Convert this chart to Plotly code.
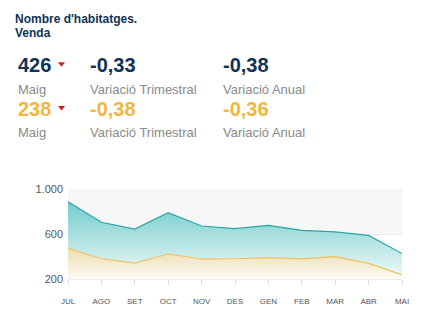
import plotly.graph_objects as go

# Monthly figures (Jul .. Maig)
months = ["JUL", "AGO", "SET", "OCT", "NOV", "DES", "GEN", "FEB", "MAR", "ABR", "MAI"]
series_a = [887, 704, 644, 789, 671, 647, 677, 633, 618, 588, 426]
series_b = [473, 380, 342, 422, 378, 380, 390, 378, 398, 339, 238]

# Summary indicators
last_a, last_b = 426, 238
period_label = "Maig"
var_trim = ["-0,33", "-0,38"]
var_anual = ["-0,38", "-0,36"]

W, H = 437, 323
L, R, T, B = 68, 402, 188.5, 279  # plot area in pixels

NAVY = "#0f3354"
GOLD = "#f2b63f"
GREY = "#8a8a8a"
RED = "#cc2027"
FONT = "Liberation Sans, Arial, sans-serif"

x = list(range(len(months)))

fig = go.Figure()
fig.add_trace(go.Scatter(
    x=x, y=series_a, mode="lines",
    line=dict(color="#2aa5a6", width=1.2),
    fill="tozeroy",
    fillgradient=dict(type="vertical", start=200, stop=900,
                      colorscale=[[0, "#f2fbfb"], [0.5, "#b0e2e2"], [1, "#70cbca"]]),
    hoverinfo="skip", showlegend=False,
))
fig.add_trace(go.Scatter(
    x=x, y=series_b, mode="lines",
    line=dict(color="#efc35c", width=1.2),
    fill="tozeroy",
    fillgradient=dict(type="vertical", start=200, stop=470,
                      colorscale=[[0, "#fefbf5"], [1, "#eddcb0"]]),
    hoverinfo="skip", showlegend=False,
))

# light band between 600 and 1000
fig.add_shape(type="rect", xref="paper", yref="y", x0=0, x1=1, y0=600, y1=1000,
              fillcolor="#f7f7f7", line=dict(width=0), layer="below")


def px(xp, yp):
    return (xp - L) / (R - L), (B - yp) / (B - T)


def text(s, xp, yp, size, color, bold=False, anchor="left"):
    xx, yy = px(xp, yp)
    fig.add_annotation(
        x=xx, y=yy, xref="paper", yref="paper", showarrow=False,
        text=f"<b>{s}</b>" if bold else s, xanchor=anchor, yanchor="middle",
        font=dict(family=FONT, size=size, color=color),
    )


def down_marker(xp, yp):
    # small red downward triangle next to the current value
    pts = [px(xp - 3.5, yp - 2), px(xp + 3.5, yp - 2), px(xp, yp + 2.5)]
    path = "M {} {} L {} {} L {} {} Z".format(*[c for p in pts for c in p])
    fig.add_shape(type="path", xref="paper", yref="paper", path=path,
                  fillcolor=RED, line=dict(width=0))


text("Nombre d'habitatges.", 13, 18, 12, NAVY, bold=True)
text("Venda", 13, 32, 12, NAVY, bold=True)

rows = [(str(last_a), NAVY, 64, 88, 0), (str(last_b), GOLD, 108, 132, 1)]
for val, col, yv, yl, i in rows:
    text(val, 16, yv, 20, col, bold=True)
    down_marker(61.5, yv - 1)
    text(period_label, 16, yl, 13, GREY)
    text(var_trim[i], 88, yv, 20, col, bold=True)
    text("Variació Trimestral", 88, yl, 13, GREY)
    text(var_anual[i], 221, yv, 20, col, bold=True)
    text("Variació Anual", 221, yl, 13, GREY)

fig.update_layout(
    width=W, height=H,
    margin=dict(l=L, r=W - R, t=T, b=H - B),
    paper_bgcolor="white", plot_bgcolor="white",
    separators=",.",
    font=dict(family=FONT),
    xaxis=dict(
        range=[0, len(months) - 1], tickvals=x, ticktext=months,
        showgrid=False, zeroline=False,
        ticks="outside", ticklen=5, tickcolor="#dcdcdc",
        tickfont=dict(size=8, color="#555"), ticklabelstandoff=9,
        showline=True, linecolor="#ececec", linewidth=1,
    ),
    yaxis=dict(
        range=[200, 1000], tickvals=[200, 600, 1000], tickformat=",d",
        showgrid=True, gridcolor="#ebebeb", zeroline=False,
        tickfont=dict(size=11, color="#555"), ticklabelstandoff=4,
    ),
)

fig.write_html("out.html")
